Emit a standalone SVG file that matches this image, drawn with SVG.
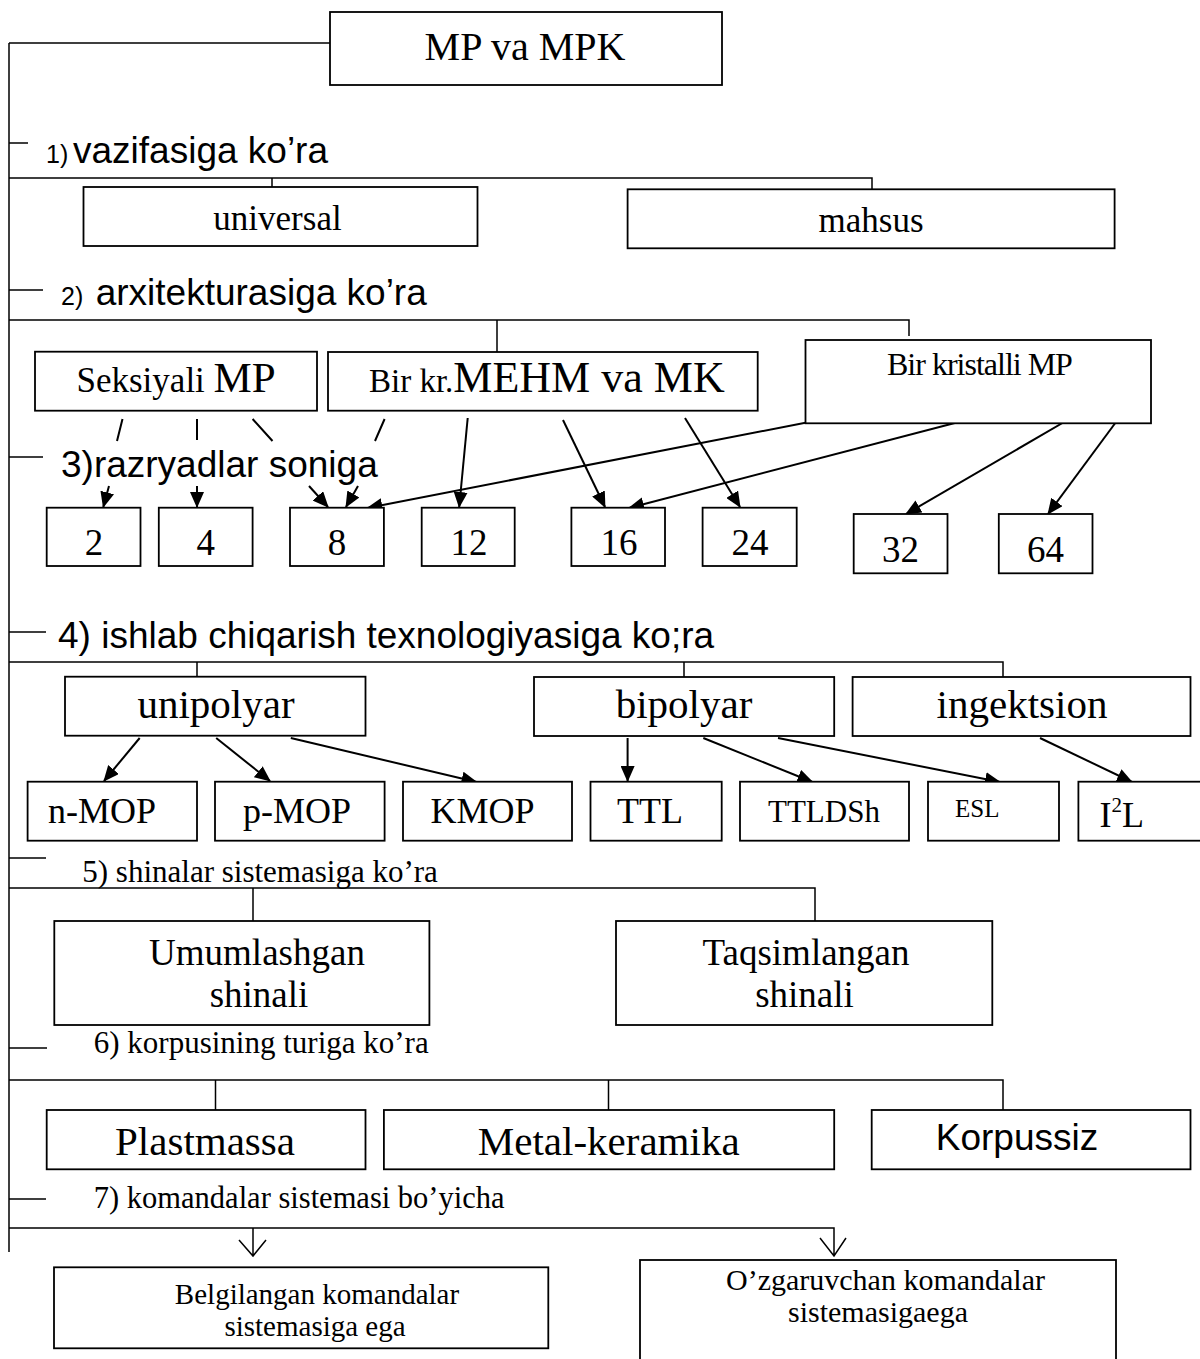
<svg xmlns="http://www.w3.org/2000/svg" width="1200" height="1359" viewBox="0 0 1200 1359">
<style>
.box{fill:#fff;stroke:#000;stroke-width:1.8}
.ln{fill:none;stroke:#000;stroke-width:1.5}
.ar{fill:none;stroke:#000;stroke-width:2;marker-end:url(#ah)}
.sl{fill:none;stroke:#000;stroke-width:2}
.tr{font-family:'Liberation Serif','Times New Roman',serif;fill:#000}
.ts{font-family:'Liberation Sans',Arial,sans-serif;fill:#000}
.c{text-anchor:middle}
</style>
<defs>
<marker id="ah" markerUnits="userSpaceOnUse" markerWidth="16" markerHeight="14" viewBox="0 0 16 14" refX="15" refY="7" orient="auto">
<path d="M0,0 L16,7 L0,14 z" fill="#000"/>
</marker>
</defs>
<rect width="1200" height="1359" fill="#fff"/>

<g id="connectors">
<path class="ln" d="M9,43 V1252 M9,43 H330"/>
<path class="ln" d="M9,143 H28 M9,290 H43 M9,457 H43 M9,632 H46 M9,858 H46 M9,1048 H47 M9,1199 H46"/>
<path class="ln" d="M9,178 H872 V189 M272,178 V187"/>
<path class="ln" d="M9,320 H909 V336 M497,320 V352"/>
<path class="ln" d="M9,662 H1003 V677 M197,662 V677 M684,662 V677"/>
<path class="ln" d="M9,888 H815 V921 M253,888 V921"/>
<path class="ln" d="M9,1080 H1003 V1110 M215.5,1080 V1110 M608.5,1080 V1110"/>
<path class="ln" d="M9,1228 H834 V1256 M253,1228 V1256 M239,1240 L253,1256 L266,1240 M820,1238 L834,1256 L846,1238"/>
<path class="sl" d="M122.5,419 L117,441 M197,419 V440 M252.6,419 L272.5,441 M384.6,419 L375,441"/>
<path class="ar" d="M109,486 L103.3,507"/>
<path class="ar" d="M197,486 L197,507"/>
<path class="ar" d="M309,486 L328,507"/>
<path class="ar" d="M358,486 L346,507"/>
<path class="ar" d="M829.6,418 L367.4,508"/>
<path class="ar" d="M467.7,418 L459.2,507"/>
<path class="ar" d="M563,420 L605,507"/>
<path class="ar" d="M974,418 L629,508"/>
<path class="ar" d="M685,418 L740,507"/>
<path class="ar" d="M1071,418 L906,514"/>
<path class="ar" d="M1119,418 L1048,514"/>
<path class="ar" d="M139.7,738 L104,781"/>
<path class="ar" d="M216.2,738 L270,781"/>
<path class="ar" d="M290.8,738 L476.5,782"/>
<path class="ar" d="M627.6,738 L627.6,781"/>
<path class="ar" d="M703.3,738 L812.4,782"/>
<path class="ar" d="M778,738 L1000,782"/>
<path class="ar" d="M1040,738 L1132,782"/>
</g>

<g id="root"><rect class="box" x="330" y="12" width="392" height="73"/><text class="tr c" x="525" y="60" font-size="40">MP va MPK</text></g>

<g id="h1"><text class="ts" x="46" y="163" font-size="25">1)</text><text class="ts" x="73" y="163" font-size="37">vazifasiga ko’ra</text></g>
<g id="universal"><rect class="box" x="83.5" y="187" width="394" height="59"/><text class="tr c" x="277.5" y="230" font-size="35">universal</text></g>
<g id="mahsus"><rect class="box" x="627.6" y="189.3" width="487" height="59"/><text class="tr c" x="871" y="232" font-size="35">mahsus</text></g>

<g id="h2"><text class="ts" x="61" y="305" font-size="25">2)</text><text class="ts" x="95.7" y="305" font-size="37">arxitekturasiga ko’ra</text></g>
<g id="seksiyali"><rect class="box" x="35" y="351.7" width="282" height="59"/><text class="tr" x="76.5" y="392" font-size="35">Seksiyali <tspan font-size="43">MP</tspan></text></g>
<g id="birkr"><rect class="box" x="328" y="352" width="429.7" height="58.7"/><text class="tr" x="369" y="392" font-size="33">Bir kr.<tspan font-size="44">MEHM va MK</tspan></text></g>
<g id="birkristalli"><rect class="box" x="805.5" y="340" width="345.5" height="83.3"/><text class="tr" x="887" y="375" font-size="32" letter-spacing="-1">Bir kristalli MP</text></g>

<g id="h3"><text class="ts" x="61" y="477" font-size="37">3)razryadlar soniga</text></g>
<g id="n2"><rect class="box" x="46.7" y="507.7" width="93.8" height="58.3"/><text class="tr c" x="94" y="555" font-size="37">2</text></g>
<g id="n4"><rect class="box" x="158.8" y="507.7" width="93.8" height="58.3"/><text class="tr c" x="205.7" y="555" font-size="37">4</text></g>
<g id="n8"><rect class="box" x="290" y="507.7" width="93.9" height="58.3"/><text class="tr c" x="337" y="555" font-size="37">8</text></g>
<g id="n12"><rect class="box" x="421.7" y="507.7" width="93" height="58.3"/><text class="tr c" x="469" y="555" font-size="37">12</text></g>
<g id="n16"><rect class="box" x="571.4" y="507.7" width="93.6" height="58.3"/><text class="tr c" x="619" y="555" font-size="37">16</text></g>
<g id="n24"><rect class="box" x="702.6" y="507.7" width="94.1" height="58.3"/><text class="tr c" x="750" y="555" font-size="37">24</text></g>
<g id="n32"><rect class="box" x="853.7" y="514" width="93.8" height="59.3"/><text class="tr c" x="900.6" y="562" font-size="37">32</text></g>
<g id="n64"><rect class="box" x="998.8" y="514" width="93.7" height="59.3"/><text class="tr c" x="1045.6" y="562" font-size="37">64</text></g>

<g id="h4"><text class="ts" x="58" y="648" font-size="37">4) ishlab chiqarish texnologiyasiga ko;ra</text></g>
<g id="unipolyar"><rect class="box" x="65" y="676.7" width="300.5" height="59"/><text class="tr c" x="216" y="718" font-size="41">unipolyar</text></g>
<g id="bipolyar"><rect class="box" x="534" y="677" width="300.2" height="59"/><text class="tr c" x="684" y="718" font-size="41">bipolyar</text></g>
<g id="ingektsion"><rect class="box" x="852.6" y="677" width="337.9" height="59"/><text class="tr c" x="1022" y="718" font-size="41">ingektsion</text></g>
<g id="nmop"><rect class="box" x="27.6" y="781.7" width="169.4" height="59"/><text class="tr" x="48" y="823" font-size="36">n-MOP</text></g>
<g id="pmop"><rect class="box" x="215" y="781.7" width="169.6" height="59"/><text class="tr" x="243" y="823" font-size="36">p-MOP</text></g>
<g id="kmop"><rect class="box" x="403" y="781.7" width="169" height="59"/><text class="tr" x="430.5" y="823" font-size="36">KMOP</text></g>
<g id="ttl"><rect class="box" x="590.5" y="781.7" width="131.2" height="59"/><text class="tr" x="617" y="823" font-size="36">TTL</text></g>
<g id="ttldsh"><rect class="box" x="740" y="781.7" width="169" height="59"/><text class="tr" x="768" y="822" font-size="31">TTLDSh</text></g>
<g id="esl"><rect class="box" x="928" y="781.7" width="131" height="59"/><text class="tr" x="955" y="817" font-size="25">ESL</text></g>
<g id="i2l"><rect class="box" x="1078.4" y="781.7" width="130" height="59"/><text class="tr" x="1099.4" y="827" font-size="36">I<tspan font-size="21" dy="-15">2</tspan><tspan dy="15">L</tspan></text></g>

<g id="h5"><text class="tr" x="82.3" y="882" font-size="31">5) shinalar sistemasiga ko’ra</text></g>
<g id="umumlashgan"><rect class="box" x="54.3" y="921" width="375.1" height="104"/><text class="tr c" x="257" y="965" font-size="37">Umumlashgan</text><text class="tr c" x="259" y="1007" font-size="37">shinali</text></g>
<g id="taqsimlangan"><rect class="box" x="616" y="921" width="376.3" height="104"/><text class="tr c" x="806" y="965" font-size="37">Taqsimlangan</text><text class="tr c" x="804.5" y="1007" font-size="37">shinali</text></g>

<g id="h6"><text class="tr" x="93.8" y="1053" font-size="31">6) korpusining turiga ko’ra</text></g>
<g id="plastmassa"><rect class="box" x="46.7" y="1110" width="318.8" height="59.3"/><text class="tr c" x="205" y="1155" font-size="41">Plastmassa</text></g>
<g id="metal"><rect class="box" x="383.9" y="1110" width="450.3" height="59.3"/><text class="tr c" x="608.7" y="1155" font-size="41">Metal-keramika</text></g>
<g id="korpussiz"><rect class="box" x="871.7" y="1110" width="318.8" height="59.3"/><text class="ts c" x="1017" y="1150" font-size="37">Korpussiz</text></g>

<g id="h7"><text class="tr" x="93.8" y="1208" font-size="30.5">7) komandalar sistemasi bo’yicha</text></g>
<g id="belgilangan"><rect class="box" x="54" y="1267.3" width="494.3" height="81"/><text class="tr c" x="317" y="1304" font-size="29">Belgilangan komandalar</text><text class="tr c" x="315" y="1336" font-size="29">sistemasiga ega</text></g>
<g id="ozgaruvchan"><rect class="box" x="640" y="1260" width="476" height="110"/><text class="tr c" x="885.5" y="1290" font-size="30">O’zgaruvchan komandalar</text><text class="tr c" x="878" y="1322" font-size="30">sistemasigaega</text></g>
</svg>
